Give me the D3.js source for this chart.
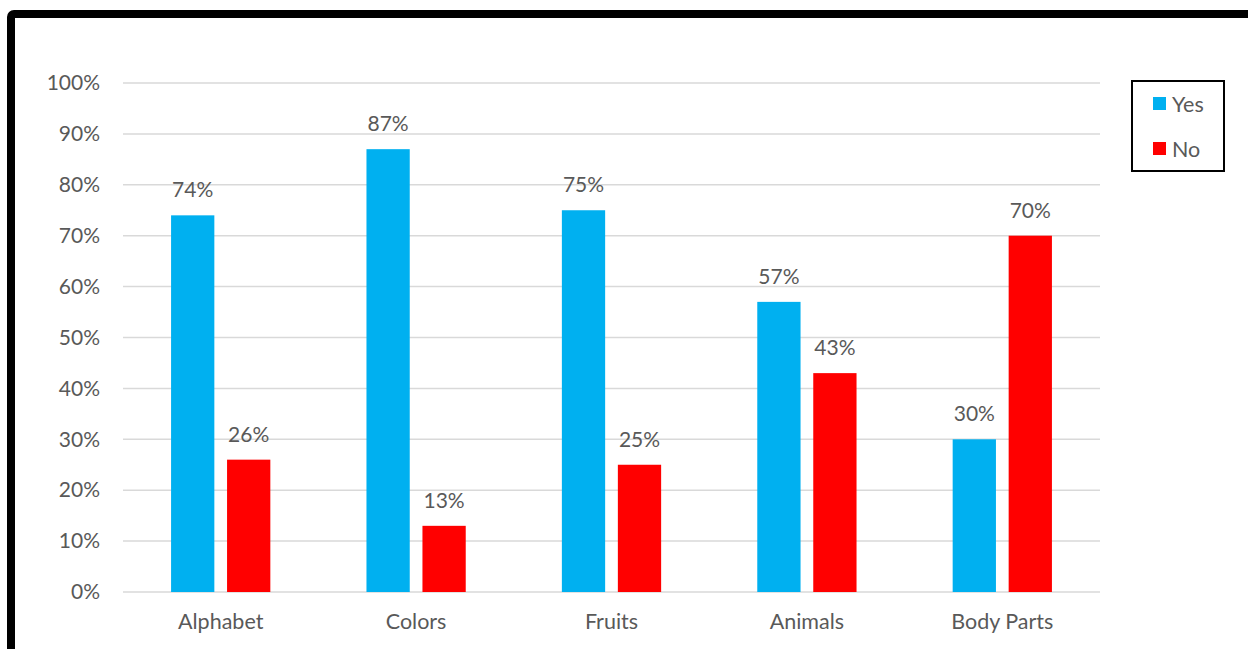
<!DOCTYPE html>
<html>
<head>
<meta charset="utf-8">
<script src="https://cdn.jsdelivr.net/npm/d3@7"></script>
<style>
  html, body { margin: 0; padding: 0; background: #fff; }
  svg { display: block; }
  text { font-family: Lato, "Open Sans", sans-serif; fill: #595959; }
</style>
</head>
<body>
<svg id="chart" width="1248" height="649"></svg>
<script>
// Survey results per topic (percent)
const categories = ["Alphabet", "Colors", "Fruits", "Animals", "Body Parts"];
const seriesNames = ["Yes", "No"];
const yesValues = [74, 87, 75, 57, 30];
const noValues = [26, 13, 25, 43, 70];
const yTicks = [0, 10, 20, 30, 40, 50, 60, 70, 80, 90, 100];
const seriesColors = ["#00B0F0", "#FF0000"];

const svg = d3.select("#chart");
const W = 1248, H = 649;

// outer frame
svg.append("rect")
  .attr("x", 11).attr("y", 14)
  .attr("width", W + 40).attr("height", H + 40)
  .attr("rx", 3)
  .attr("fill", "none")
  .attr("stroke", "#000")
  .attr("stroke-width", 8);

const plot = { left: 123, right: 1100, top: 83, bottom: 592 };

const x0 = d3.scaleBand()
  .domain(categories)
  .range([plot.left, plot.right])
  .paddingInner(0.492)
  .paddingOuter(0.246);

const x1 = d3.scaleBand()
  .domain(seriesNames)
  .range([0, x0.bandwidth()])
  .paddingInner(0.227);

const y = d3.scaleLinear().domain([0, 100]).range([plot.bottom, plot.top]);

// gridlines
svg.append("g")
  .selectAll("line")
  .data(yTicks)
  .join("line")
  .attr("x1", plot.left).attr("x2", plot.right)
  .attr("y1", d => y(d)).attr("y2", d => y(d))
  .attr("stroke", "#D9D9D9")
  .attr("stroke-width", 1.5);

// y tick labels
const yAxis = d3.axisLeft(y).tickValues(yTicks).tickFormat(d => d + "%").tickSize(0).tickPadding(23);
const gy = svg.append("g").attr("transform", `translate(${plot.left},0)`).call(yAxis);
gy.select(".domain").remove();
gy.selectAll("text")
  .attr("font-size", 21)
  .attr("font-family", "Lato, sans-serif")
  .attr("fill", "#595959");

// x category labels
const xAxis = d3.axisBottom(x0).tickSize(0).tickPadding(22);
const gx = svg.append("g").attr("transform", `translate(0,${plot.bottom})`).call(xAxis);
gx.select(".domain").remove();
gx.selectAll("text")
  .attr("font-size", 21.5)
  .attr("font-family", "Lato, sans-serif")
  .attr("fill", "#595959");

const rows = categories.map((c, i) => ({ category: c, values: [yesValues[i], noValues[i]] }));

const groups = svg.append("g")
  .selectAll("g")
  .data(rows)
  .join("g")
  .attr("transform", d => `translate(${x0(d.category)},0)`);

const cells = groups.selectAll("g")
  .data(d => d.values.map((v, j) => ({ name: seriesNames[j], value: v, color: seriesColors[j] })))
  .join("g");

cells.append("rect")
  .attr("x", d => x1(d.name))
  .attr("width", x1.bandwidth())
  .attr("y", d => y(d.value))
  .attr("height", d => y(0) - y(d.value))
  .attr("fill", d => d.color);

cells.append("text")
  .attr("x", d => x1(d.name) + x1.bandwidth() / 2)
  .attr("y", d => y(d.value) - 18)
  .attr("text-anchor", "middle")
  .attr("font-size", 21)
  .attr("fill", "#404040")
  .text(d => d.value + "%");

// legend
const legend = svg.append("g");
legend.append("rect")
  .attr("x", 1132).attr("y", 81)
  .attr("width", 92).attr("height", 90)
  .attr("fill", "#fff")
  .attr("stroke", "#000")
  .attr("stroke-width", 2);

const legendItems = legend.selectAll("g.item")
  .data(seriesNames)
  .join("g")
  .attr("class", "item")
  .attr("transform", (d, i) => `translate(1153,${97 + i * 45})`);

legendItems.append("rect")
  .attr("width", 13).attr("height", 13)
  .attr("fill", (d, i) => seriesColors[i]);

legendItems.append("text")
  .attr("x", 19).attr("y", 7)
  .attr("dy", "0.35em")
  .attr("font-size", 21.5)
  .attr("fill", "#595959")
  .text(d => d);
</script>
</body>
</html>
